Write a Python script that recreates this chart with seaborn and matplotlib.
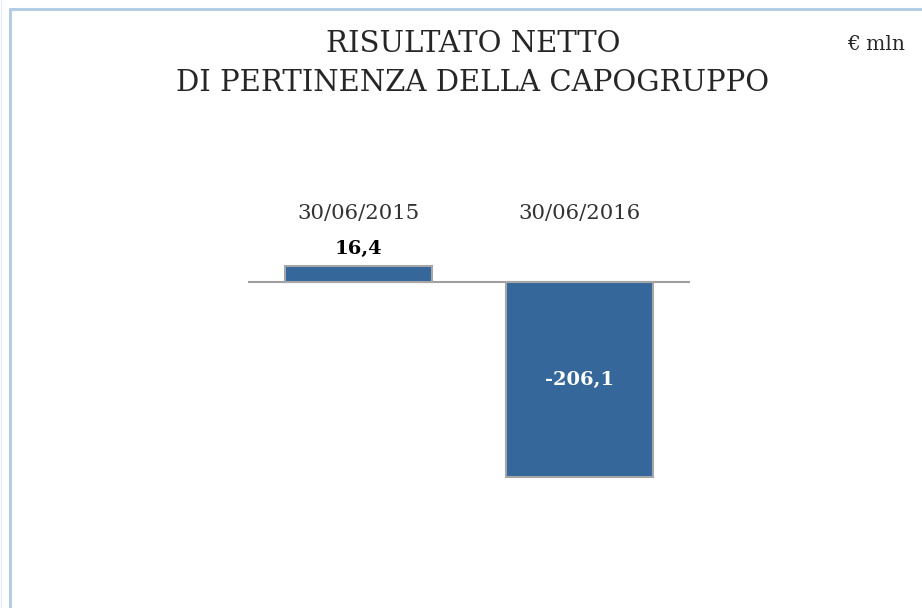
"""
Risultato netto di pertinenza della capogruppo - grafico a barre
"""

import matplotlib.pyplot as plt
from matplotlib.lines import Line2D
import seaborn as sns
import pandas as pd

# dati
periodi = ['30/06/2015', '30/06/2016']
risultato = [16.4, -206.1]
etichette = ['16,4', '-206,1']

BAR_COLOR = '#35679A'
EDGE_COLOR = '#A6A6A6'
FRAME_COLOR = '#B4CDE6'
SERIF = ['DejaVu Serif', 'Liberation Serif']

sns.set_style('white')
plt.rcParams['font.family'] = SERIF

df = pd.DataFrame({'periodo': periodi, 'valore': risultato})

fig = plt.figure(figsize=(9.22, 6.08), dpi=100)
W, H = 922, 608
# asse: zero a y=282px, scala ~0.946 px per unità
px_unit = 0.946
y_top, y_bot = 100, -280
ax_top_px = 282 - y_top * px_unit
ax_h_px = (y_top - y_bot) * px_unit
ax = fig.add_axes([248 / W, 1 - (ax_top_px + ax_h_px) / H, 442 / W, ax_h_px / H])

sns.barplot(data=df, x='periodo', y='valore', order=periodi, color=BAR_COLOR,
            saturation=1, width=0.665, edgecolor=EDGE_COLOR, linewidth=1.5, ax=ax)
ax.set_xlim(-0.5, 1.5)
ax.set_ylim(y_bot, y_top)
ax.axhline(0, color='#A0A0A0', lw=1.5, zorder=0.5)

# etichette periodi e valori
for i, (p, v, lab) in enumerate(zip(periodi, risultato, etichette)):
    ax.text(i, 72, p, ha='center', va='center', fontsize=15.3, color='#333333')
    if v >= 0:
        ax.text(i, v + 19, lab, ha='center', va='center', fontsize=14,
                fontweight='bold', color='black')
    else:
        ax.text(i, v / 2, lab, ha='center', va='center', fontsize=14,
                fontweight='bold', color='white')

ax.axis('off')

# titolo
fig.text(473 / W, 1 - 44 / H, 'RISULTATO NETTO', ha='center', va='center',
         fontsize=21, color='#262626')
fig.text(473 / W, 1 - 83 / H, 'DI PERTINENZA DELLA CAPOGRUPPO', ha='center',
         va='center', fontsize=21, color='#262626')
fig.text(876 / W, 1 - 45 / H, '€ mln', ha='center', va='center',
         fontsize=14.5, color='#262626')

# cornice
fig.add_artist(Line2D([9.5 / W, 9.5 / W], [0, 1 - 8.5 / H], color=FRAME_COLOR, lw=2.2))
fig.add_artist(Line2D([9.5 / W, 1], [1 - 8.5 / H, 1 - 8.5 / H], color=FRAME_COLOR, lw=2.2))
fig.add_artist(Line2D([1 / W, 1 / W], [0, 1], color='#E4EDF7', lw=1))

fig.savefig('out.png', dpi=100)
